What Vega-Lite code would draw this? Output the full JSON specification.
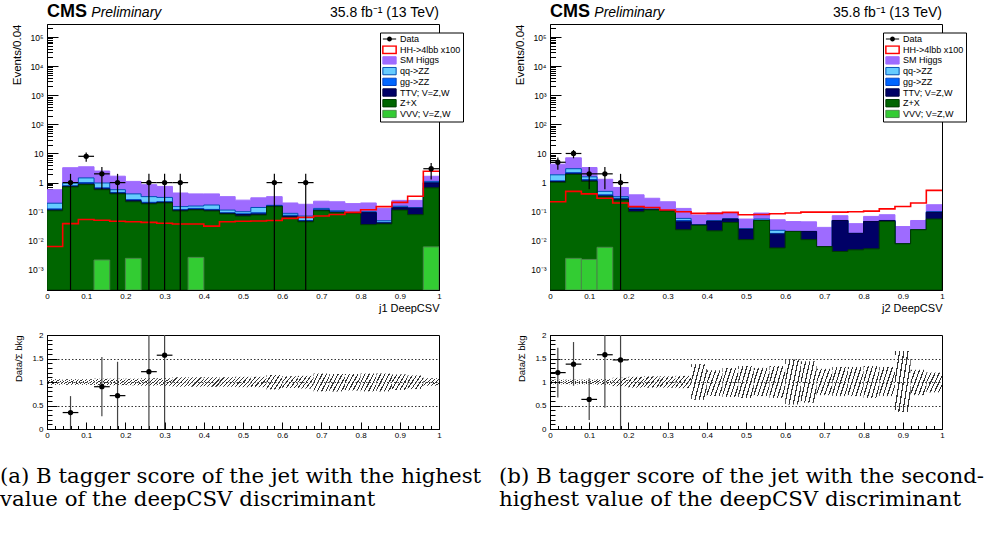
{
"$schema": "https://vega.github.io/schema/vega-lite/v6.json",
"background": "white",
"padding": {"left": 0, "top": 2, "right": 5, "bottom": 5},
"config": {
  "font": "Liberation Sans",
  "view": {"stroke": "black", "strokeWidth": 1},
  "axis": {"labelColor": "black", "titleColor": "black", "tickColor": "black", "domainColor": "black", "labelFont": "Liberation Sans", "titleFont": "Liberation Sans", "titleFontWeight": "normal", "grid": false, "zindex": 1, "labelFlush": false, "labelOverlap": false, "domain": true, "domainWidth": 1, "tickWidth": 1}
},
"datasets": {
  "stackL": [
    {"proc":"SM Higgs","x0":0,"x1":0.04,"top":0.57},{"proc":"SM Higgs","x0":0.04,"x1":0.08,"top":3.25},{"proc":"SM Higgs","x0":0.08,"x1":0.12,"top":3.5},{"proc":"SM Higgs","x0":0.12,"x1":0.16,"top":2.5},{"proc":"SM Higgs","x0":0.16,"x1":0.2,"top":1.66},{"proc":"SM Higgs","x0":0.2,"x1":0.24,"top":1.1},{"proc":"SM Higgs","x0":0.24,"x1":0.28,"top":0.85},{"proc":"SM Higgs","x0":0.28,"x1":0.32,"top":0.74},{"proc":"SM Higgs","x0":0.32,"x1":0.36,"top":0.44},{"proc":"SM Higgs","x0":0.36,"x1":0.4,"top":0.41},{"proc":"SM Higgs","x0":0.4,"x1":0.44,"top":0.41},{"proc":"SM Higgs","x0":0.44,"x1":0.48,"top":0.33},{"proc":"SM Higgs","x0":0.48,"x1":0.52,"top":0.25},{"proc":"SM Higgs","x0":0.52,"x1":0.56,"top":0.3},{"proc":"SM Higgs","x0":0.56,"x1":0.6,"top":0.33},{"proc":"SM Higgs","x0":0.6,"x1":0.64,"top":0.2},{"proc":"SM Higgs","x0":0.64,"x1":0.68,"top":0.18},{"proc":"SM Higgs","x0":0.68,"x1":0.72,"top":0.23},{"proc":"SM Higgs","x0":0.72,"x1":0.76,"top":0.22},{"proc":"SM Higgs","x0":0.76,"x1":0.8,"top":0.19},{"proc":"SM Higgs","x0":0.8,"x1":0.84,"top":0.2},{"proc":"SM Higgs","x0":0.84,"x1":0.88,"top":0.13},{"proc":"SM Higgs","x0":0.88,"x1":0.92,"top":0.245},{"proc":"SM Higgs","x0":0.92,"x1":0.96,"top":0.245},{"proc":"SM Higgs","x0":0.96,"x1":1,"top":1.65},
    {"proc":"qq->ZZ","x0":0,"x1":0.04,"top":0.196},{"proc":"qq->ZZ","x0":0.04,"x1":0.08,"top":0.97},{"proc":"qq->ZZ","x0":0.08,"x1":0.12,"top":1.45},{"proc":"qq->ZZ","x0":0.12,"x1":0.16,"top":0.97},{"proc":"qq->ZZ","x0":0.16,"x1":0.2,"top":0.57},{"proc":"qq->ZZ","x0":0.2,"x1":0.24,"top":0.41},{"proc":"qq->ZZ","x0":0.24,"x1":0.28,"top":0.33},{"proc":"qq->ZZ","x0":0.28,"x1":0.32,"top":0.31},{"proc":"qq->ZZ","x0":0.32,"x1":0.36,"top":0.15},{"proc":"qq->ZZ","x0":0.36,"x1":0.4,"top":0.157},{"proc":"qq->ZZ","x0":0.4,"x1":0.44,"top":0.17},{"proc":"qq->ZZ","x0":0.44,"x1":0.48,"top":0.114},{"proc":"qq->ZZ","x0":0.48,"x1":0.52,"top":0.1},{"proc":"qq->ZZ","x0":0.52,"x1":0.56,"top":0.14},{"proc":"qq->ZZ","x0":0.56,"x1":0.6,"top":0.166},{"proc":"qq->ZZ","x0":0.6,"x1":0.64,"top":0.088},{"proc":"qq->ZZ","x0":0.64,"x1":0.68,"top":0.071},{"proc":"qq->ZZ","x0":0.68,"x1":0.72,"top":0.13},{"proc":"qq->ZZ","x0":0.72,"x1":0.76,"top":0.108},{"proc":"qq->ZZ","x0":0.76,"x1":0.8,"top":0.095},{"proc":"qq->ZZ","x0":0.8,"x1":0.84,"top":0.1},{"proc":"qq->ZZ","x0":0.84,"x1":0.88,"top":0.049},{"proc":"qq->ZZ","x0":0.88,"x1":0.92,"top":0.155},{"proc":"qq->ZZ","x0":0.92,"x1":0.96,"top":0.137},{"proc":"qq->ZZ","x0":0.96,"x1":1,"top":1.1},
    {"proc":"gg->ZZ","x0":0,"x1":0.04,"top":0.125},{"proc":"gg->ZZ","x0":0.04,"x1":0.08,"top":0.78},{"proc":"gg->ZZ","x0":0.08,"x1":0.12,"top":1.0},{"proc":"gg->ZZ","x0":0.12,"x1":0.16,"top":0.66},{"proc":"gg->ZZ","x0":0.16,"x1":0.2,"top":0.46},{"proc":"gg->ZZ","x0":0.2,"x1":0.24,"top":0.26},{"proc":"gg->ZZ","x0":0.24,"x1":0.28,"top":0.21},{"proc":"gg->ZZ","x0":0.28,"x1":0.32,"top":0.22},{"proc":"gg->ZZ","x0":0.32,"x1":0.36,"top":0.12},{"proc":"gg->ZZ","x0":0.36,"x1":0.4,"top":0.13},{"proc":"gg->ZZ","x0":0.4,"x1":0.44,"top":0.12},{"proc":"gg->ZZ","x0":0.44,"x1":0.48,"top":0.092},{"proc":"gg->ZZ","x0":0.48,"x1":0.52,"top":0.085},{"proc":"gg->ZZ","x0":0.52,"x1":0.56,"top":0.092},{"proc":"gg->ZZ","x0":0.56,"x1":0.6,"top":0.16},{"proc":"gg->ZZ","x0":0.6,"x1":0.64,"top":0.076},{"proc":"gg->ZZ","x0":0.64,"x1":0.68,"top":0.05},{"proc":"gg->ZZ","x0":0.68,"x1":0.72,"top":0.117},{"proc":"gg->ZZ","x0":0.72,"x1":0.76,"top":0.1},{"proc":"gg->ZZ","x0":0.76,"x1":0.8,"top":0.093},{"proc":"gg->ZZ","x0":0.8,"x1":0.84,"top":0.096},{"proc":"gg->ZZ","x0":0.84,"x1":0.88,"top":0.043},{"proc":"gg->ZZ","x0":0.88,"x1":0.92,"top":0.145},{"proc":"gg->ZZ","x0":0.92,"x1":0.96,"top":0.135},{"proc":"gg->ZZ","x0":0.96,"x1":1,"top":1.0},
    {"proc":"TTV; V=Z,W","x0":0,"x1":0.04,"top":0.115},{"proc":"TTV; V=Z,W","x0":0.04,"x1":0.08,"top":0.74},{"proc":"TTV; V=Z,W","x0":0.08,"x1":0.12,"top":0.9},{"proc":"TTV; V=Z,W","x0":0.12,"x1":0.16,"top":0.61},{"proc":"TTV; V=Z,W","x0":0.16,"x1":0.2,"top":0.43},{"proc":"TTV; V=Z,W","x0":0.2,"x1":0.24,"top":0.24},{"proc":"TTV; V=Z,W","x0":0.24,"x1":0.28,"top":0.195},{"proc":"TTV; V=Z,W","x0":0.28,"x1":0.32,"top":0.21},{"proc":"TTV; V=Z,W","x0":0.32,"x1":0.36,"top":0.112},{"proc":"TTV; V=Z,W","x0":0.36,"x1":0.4,"top":0.12},{"proc":"TTV; V=Z,W","x0":0.4,"x1":0.44,"top":0.112},{"proc":"TTV; V=Z,W","x0":0.44,"x1":0.48,"top":0.088},{"proc":"TTV; V=Z,W","x0":0.48,"x1":0.52,"top":0.08},{"proc":"TTV; V=Z,W","x0":0.52,"x1":0.56,"top":0.084},{"proc":"TTV; V=Z,W","x0":0.56,"x1":0.6,"top":0.155},{"proc":"TTV; V=Z,W","x0":0.6,"x1":0.64,"top":0.07},{"proc":"TTV; V=Z,W","x0":0.64,"x1":0.68,"top":0.047},{"proc":"TTV; V=Z,W","x0":0.68,"x1":0.72,"top":0.112},{"proc":"TTV; V=Z,W","x0":0.72,"x1":0.76,"top":0.096},{"proc":"TTV; V=Z,W","x0":0.76,"x1":0.8,"top":0.091},{"proc":"TTV; V=Z,W","x0":0.8,"x1":0.84,"top":0.093},{"proc":"TTV; V=Z,W","x0":0.84,"x1":0.88,"top":0.041},{"proc":"TTV; V=Z,W","x0":0.88,"x1":0.92,"top":0.137},{"proc":"TTV; V=Z,W","x0":0.92,"x1":0.96,"top":0.132},{"proc":"TTV; V=Z,W","x0":0.96,"x1":1,"top":0.97},
    {"proc":"Z+X","x0":0,"x1":0.04,"top":0.108},{"proc":"Z+X","x0":0.04,"x1":0.08,"top":0.71},{"proc":"Z+X","x0":0.08,"x1":0.12,"top":0.85},{"proc":"Z+X","x0":0.12,"x1":0.16,"top":0.57},{"proc":"Z+X","x0":0.16,"x1":0.2,"top":0.41},{"proc":"Z+X","x0":0.2,"x1":0.24,"top":0.22},{"proc":"Z+X","x0":0.24,"x1":0.28,"top":0.186},{"proc":"Z+X","x0":0.28,"x1":0.32,"top":0.2},{"proc":"Z+X","x0":0.32,"x1":0.36,"top":0.106},{"proc":"Z+X","x0":0.36,"x1":0.4,"top":0.115},{"proc":"Z+X","x0":0.4,"x1":0.44,"top":0.106},{"proc":"Z+X","x0":0.44,"x1":0.48,"top":0.083},{"proc":"Z+X","x0":0.48,"x1":0.52,"top":0.071},{"proc":"Z+X","x0":0.52,"x1":0.56,"top":0.077},{"proc":"Z+X","x0":0.56,"x1":0.6,"top":0.15},{"proc":"Z+X","x0":0.6,"x1":0.64,"top":0.064},{"proc":"Z+X","x0":0.64,"x1":0.68,"top":0.045},{"proc":"Z+X","x0":0.68,"x1":0.72,"top":0.108},{"proc":"Z+X","x0":0.72,"x1":0.76,"top":0.093},{"proc":"Z+X","x0":0.76,"x1":0.8,"top":0.088},{"proc":"Z+X","x0":0.8,"x1":0.84,"top":0.036},{"proc":"Z+X","x0":0.84,"x1":0.88,"top":0.038},{"proc":"Z+X","x0":0.88,"x1":0.92,"top":0.114},{"proc":"Z+X","x0":0.92,"x1":0.96,"top":0.079},{"proc":"Z+X","x0":0.96,"x1":1,"top":0.66}
  ],
  "stackR": [
    {"proc":"SM Higgs","x0":0,"x1":0.04,"top":4.3},{"proc":"SM Higgs","x0":0.04,"x1":0.08,"top":7.1},{"proc":"SM Higgs","x0":0.08,"x1":0.12,"top":3.3},{"proc":"SM Higgs","x0":0.12,"x1":0.16,"top":1.3},{"proc":"SM Higgs","x0":0.16,"x1":0.2,"top":0.68},{"proc":"SM Higgs","x0":0.2,"x1":0.24,"top":0.38},{"proc":"SM Higgs","x0":0.24,"x1":0.28,"top":0.29},{"proc":"SM Higgs","x0":0.28,"x1":0.32,"top":0.22},{"proc":"SM Higgs","x0":0.32,"x1":0.36,"top":0.13},{"proc":"SM Higgs","x0":0.36,"x1":0.4,"top":0.077},{"proc":"SM Higgs","x0":0.4,"x1":0.44,"top":0.092},{"proc":"SM Higgs","x0":0.44,"x1":0.48,"top":0.09},{"proc":"SM Higgs","x0":0.48,"x1":0.52,"top":0.056},{"proc":"SM Higgs","x0":0.52,"x1":0.56,"top":0.09},{"proc":"SM Higgs","x0":0.56,"x1":0.6,"top":0.053},{"proc":"SM Higgs","x0":0.6,"x1":0.64,"top":0.046},{"proc":"SM Higgs","x0":0.64,"x1":0.68,"top":0.045},{"proc":"SM Higgs","x0":0.68,"x1":0.72,"top":0.029},{"proc":"SM Higgs","x0":0.72,"x1":0.76,"top":0.073},{"proc":"SM Higgs","x0":0.76,"x1":0.8,"top":0.039},{"proc":"SM Higgs","x0":0.8,"x1":0.84,"top":0.069},{"proc":"SM Higgs","x0":0.84,"x1":0.88,"top":0.079},{"proc":"SM Higgs","x0":0.88,"x1":0.92,"top":0.031},{"proc":"SM Higgs","x0":0.92,"x1":0.96,"top":0.05},{"proc":"SM Higgs","x0":0.96,"x1":1,"top":0.174},
    {"proc":"qq->ZZ","x0":0,"x1":0.04,"top":1.85},{"proc":"qq->ZZ","x0":0.04,"x1":0.08,"top":3.0},{"proc":"qq->ZZ","x0":0.08,"x1":0.12,"top":1.58},{"proc":"qq->ZZ","x0":0.12,"x1":0.16,"top":0.5},{"proc":"qq->ZZ","x0":0.16,"x1":0.2,"top":0.33},{"proc":"qq->ZZ","x0":0.2,"x1":0.24,"top":0.14},{"proc":"qq->ZZ","x0":0.24,"x1":0.28,"top":0.125},{"proc":"qq->ZZ","x0":0.28,"x1":0.32,"top":0.11},{"proc":"qq->ZZ","x0":0.32,"x1":0.36,"top":0.059},{"proc":"qq->ZZ","x0":0.36,"x1":0.4,"top":0.036},{"proc":"qq->ZZ","x0":0.4,"x1":0.44,"top":0.049},{"proc":"qq->ZZ","x0":0.44,"x1":0.48,"top":0.057},{"proc":"qq->ZZ","x0":0.48,"x1":0.52,"top":0.026},{"proc":"qq->ZZ","x0":0.52,"x1":0.56,"top":0.056},{"proc":"qq->ZZ","x0":0.56,"x1":0.6,"top":0.023},{"proc":"qq->ZZ","x0":0.6,"x1":0.64,"top":0.021},{"proc":"qq->ZZ","x0":0.64,"x1":0.68,"top":0.021},{"proc":"qq->ZZ","x0":0.68,"x1":0.72,"top":0.0063},{"proc":"qq->ZZ","x0":0.72,"x1":0.76,"top":0.05},{"proc":"qq->ZZ","x0":0.76,"x1":0.8,"top":0.018},{"proc":"qq->ZZ","x0":0.8,"x1":0.84,"top":0.046},{"proc":"qq->ZZ","x0":0.84,"x1":0.88,"top":0.05},{"proc":"qq->ZZ","x0":0.88,"x1":0.92,"top":0.0079},{"proc":"qq->ZZ","x0":0.92,"x1":0.96,"top":0.024},{"proc":"qq->ZZ","x0":0.96,"x1":1,"top":0.1},
    {"proc":"gg->ZZ","x0":0,"x1":0.04,"top":1.15},{"proc":"gg->ZZ","x0":0.04,"x1":0.08,"top":2.2},{"proc":"gg->ZZ","x0":0.08,"x1":0.12,"top":1.27},{"proc":"gg->ZZ","x0":0.12,"x1":0.16,"top":0.38},{"proc":"gg->ZZ","x0":0.16,"x1":0.2,"top":0.29},{"proc":"gg->ZZ","x0":0.2,"x1":0.24,"top":0.134},{"proc":"gg->ZZ","x0":0.24,"x1":0.28,"top":0.12},{"proc":"gg->ZZ","x0":0.28,"x1":0.32,"top":0.108},{"proc":"gg->ZZ","x0":0.32,"x1":0.36,"top":0.05},{"proc":"gg->ZZ","x0":0.36,"x1":0.4,"top":0.035},{"proc":"gg->ZZ","x0":0.4,"x1":0.44,"top":0.048},{"proc":"gg->ZZ","x0":0.44,"x1":0.48,"top":0.056},{"proc":"gg->ZZ","x0":0.48,"x1":0.52,"top":0.025},{"proc":"gg->ZZ","x0":0.52,"x1":0.56,"top":0.051},{"proc":"gg->ZZ","x0":0.56,"x1":0.6,"top":0.018},{"proc":"gg->ZZ","x0":0.6,"x1":0.64,"top":0.021},{"proc":"gg->ZZ","x0":0.64,"x1":0.68,"top":0.021},{"proc":"gg->ZZ","x0":0.68,"x1":0.72,"top":0.0063},{"proc":"gg->ZZ","x0":0.72,"x1":0.76,"top":0.05},{"proc":"gg->ZZ","x0":0.76,"x1":0.8,"top":0.018},{"proc":"gg->ZZ","x0":0.8,"x1":0.84,"top":0.046},{"proc":"gg->ZZ","x0":0.84,"x1":0.88,"top":0.05},{"proc":"gg->ZZ","x0":0.88,"x1":0.92,"top":0.0079},{"proc":"gg->ZZ","x0":0.92,"x1":0.96,"top":0.024},{"proc":"gg->ZZ","x0":0.96,"x1":1,"top":0.097},
    {"proc":"TTV; V=Z,W","x0":0,"x1":0.04,"top":1.08},{"proc":"TTV; V=Z,W","x0":0.04,"x1":0.08,"top":2.0},{"proc":"TTV; V=Z,W","x0":0.08,"x1":0.12,"top":1.15},{"proc":"TTV; V=Z,W","x0":0.12,"x1":0.16,"top":0.35},{"proc":"TTV; V=Z,W","x0":0.16,"x1":0.2,"top":0.27},{"proc":"TTV; V=Z,W","x0":0.2,"x1":0.24,"top":0.12},{"proc":"TTV; V=Z,W","x0":0.24,"x1":0.28,"top":0.117},{"proc":"TTV; V=Z,W","x0":0.28,"x1":0.32,"top":0.106},{"proc":"TTV; V=Z,W","x0":0.32,"x1":0.36,"top":0.045},{"proc":"TTV; V=Z,W","x0":0.36,"x1":0.4,"top":0.035},{"proc":"TTV; V=Z,W","x0":0.4,"x1":0.44,"top":0.047},{"proc":"TTV; V=Z,W","x0":0.44,"x1":0.48,"top":0.056},{"proc":"TTV; V=Z,W","x0":0.48,"x1":0.52,"top":0.025},{"proc":"TTV; V=Z,W","x0":0.52,"x1":0.56,"top":0.05},{"proc":"TTV; V=Z,W","x0":0.56,"x1":0.6,"top":0.017},{"proc":"TTV; V=Z,W","x0":0.6,"x1":0.64,"top":0.021},{"proc":"TTV; V=Z,W","x0":0.64,"x1":0.68,"top":0.021},{"proc":"TTV; V=Z,W","x0":0.68,"x1":0.72,"top":0.0063},{"proc":"TTV; V=Z,W","x0":0.72,"x1":0.76,"top":0.05},{"proc":"TTV; V=Z,W","x0":0.76,"x1":0.8,"top":0.018},{"proc":"TTV; V=Z,W","x0":0.8,"x1":0.84,"top":0.046},{"proc":"TTV; V=Z,W","x0":0.84,"x1":0.88,"top":0.05},{"proc":"TTV; V=Z,W","x0":0.88,"x1":0.92,"top":0.0079},{"proc":"TTV; V=Z,W","x0":0.92,"x1":0.96,"top":0.024},{"proc":"TTV; V=Z,W","x0":0.96,"x1":1,"top":0.095},
    {"proc":"Z+X","x0":0,"x1":0.04,"top":1.02},{"proc":"Z+X","x0":0.04,"x1":0.08,"top":1.9},{"proc":"Z+X","x0":0.08,"x1":0.12,"top":1.1},{"proc":"Z+X","x0":0.12,"x1":0.16,"top":0.33},{"proc":"Z+X","x0":0.16,"x1":0.2,"top":0.25},{"proc":"Z+X","x0":0.2,"x1":0.24,"top":0.1},{"proc":"Z+X","x0":0.24,"x1":0.28,"top":0.115},{"proc":"Z+X","x0":0.28,"x1":0.32,"top":0.105},{"proc":"Z+X","x0":0.32,"x1":0.36,"top":0.024},{"proc":"Z+X","x0":0.36,"x1":0.4,"top":0.034},{"proc":"Z+X","x0":0.4,"x1":0.44,"top":0.022},{"proc":"Z+X","x0":0.44,"x1":0.48,"top":0.043},{"proc":"Z+X","x0":0.48,"x1":0.52,"top":0.011},{"proc":"Z+X","x0":0.52,"x1":0.56,"top":0.05},{"proc":"Z+X","x0":0.56,"x1":0.6,"top":0.0057},{"proc":"Z+X","x0":0.6,"x1":0.64,"top":0.021},{"proc":"Z+X","x0":0.64,"x1":0.68,"top":0.011},{"proc":"Z+X","x0":0.68,"x1":0.72,"top":0.0063},{"proc":"Z+X","x0":0.72,"x1":0.76,"top":0.0043},{"proc":"Z+X","x0":0.76,"x1":0.8,"top":0.0049},{"proc":"Z+X","x0":0.8,"x1":0.84,"top":0.0053},{"proc":"Z+X","x0":0.84,"x1":0.88,"top":0.046},{"proc":"Z+X","x0":0.88,"x1":0.92,"top":0.0079},{"proc":"Z+X","x0":0.92,"x1":0.96,"top":0.024},{"proc":"Z+X","x0":0.96,"x1":1,"top":0.056}
  ],
  "vvvL": [{"x0":0.12,"x1":0.16,"top":0.0022},{"x0":0.2,"x1":0.24,"top":0.0025},{"x0":0.36,"x1":0.4,"top":0.0027},{"x0":0.96,"x1":1,"top":0.0062}],
  "vvvR": [{"x0":0.04,"x1":0.08,"top":0.0025},{"x0":0.08,"x1":0.12,"top":0.0023},{"x0":0.12,"x1":0.16,"top":0.006}],
  "hhL": [{"x":0,"y":0.0064},{"x":0.04,"y":0.039},{"x":0.08,"y":0.054},{"x":0.12,"y":0.051},{"x":0.16,"y":0.047},{"x":0.2,"y":0.045},{"x":0.24,"y":0.043},{"x":0.28,"y":0.04},{"x":0.32,"y":0.038},{"x":0.36,"y":0.038},{"x":0.4,"y":0.032},{"x":0.44,"y":0.045},{"x":0.48,"y":0.047},{"x":0.52,"y":0.048},{"x":0.56,"y":0.05},{"x":0.6,"y":0.059},{"x":0.64,"y":0.064},{"x":0.68,"y":0.071},{"x":0.72,"y":0.08},{"x":0.76,"y":0.095},{"x":0.8,"y":0.117},{"x":0.84,"y":0.15},{"x":0.88,"y":0.21},{"x":0.92,"y":0.34},{"x":0.96,"y":2.45},{"x":1,"y":2.45}],
  "hhR": [{"x":0,"y":0.22},{"x":0.04,"y":0.5},{"x":0.08,"y":0.41},{"x":0.12,"y":0.29},{"x":0.16,"y":0.2},{"x":0.2,"y":0.15},{"x":0.24,"y":0.14},{"x":0.28,"y":0.115},{"x":0.32,"y":0.1},{"x":0.36,"y":0.088},{"x":0.4,"y":0.088},{"x":0.44,"y":0.095},{"x":0.48,"y":0.079},{"x":0.52,"y":0.08},{"x":0.56,"y":0.085},{"x":0.6,"y":0.09},{"x":0.64,"y":0.097},{"x":0.68,"y":0.097},{"x":0.72,"y":0.097},{"x":0.76,"y":0.1},{"x":0.8,"y":0.105},{"x":0.84,"y":0.125},{"x":0.88,"y":0.152},{"x":0.92,"y":0.2},{"x":0.96,"y":0.54},{"x":1,"y":0.54}],
  "dataL": [{"x":0.06,"x0":0.04,"x1":0.08,"n":1,"lo":0.000001,"hi":2},{"x":0.1,"x0":0.08,"x1":0.12,"n":8,"lo":5.17,"hi":10.83},{"x":0.14,"x0":0.12,"x1":0.16,"n":2,"lo":0.59,"hi":3.41},{"x":0.18,"x0":0.16,"x1":0.2,"n":1,"lo":0.000001,"hi":2},{"x":0.26,"x0":0.24,"x1":0.28,"n":1,"lo":0.000001,"hi":2},{"x":0.3,"x0":0.28,"x1":0.32,"n":1,"lo":0.000001,"hi":2},{"x":0.34,"x0":0.32,"x1":0.36,"n":1,"lo":0.000001,"hi":2},{"x":0.58,"x0":0.56,"x1":0.6,"n":1,"lo":0.000001,"hi":2},{"x":0.66,"x0":0.64,"x1":0.68,"n":1,"lo":0.000001,"hi":2},{"x":0.98,"x0":0.96,"x1":1,"n":3,"lo":1.27,"hi":4.73}],
  "dataR": [{"x":0.02,"x0":0,"x1":0.04,"n":5,"lo":2.76,"hi":7.24},{"x":0.06,"x0":0.04,"x1":0.08,"n":10,"lo":6.84,"hi":13.16},{"x":0.1,"x0":0.08,"x1":0.12,"n":2,"lo":0.59,"hi":3.41},{"x":0.14,"x0":0.12,"x1":0.16,"n":2,"lo":0.59,"hi":3.41},{"x":0.18,"x0":0.16,"x1":0.2,"n":1,"lo":0.000001,"hi":2}],
  "ratioL": [{"x":0.06,"x0":0.04,"x1":0.08,"r":0.35,"lo":0,"hi":0.7},{"x":0.14,"x0":0.12,"x1":0.16,"r":0.9,"lo":0.27,"hi":1.53},{"x":0.18,"x0":0.16,"x1":0.2,"r":0.71,"lo":0,"hi":1.43},{"x":0.26,"x0":0.24,"x1":0.28,"r":1.22,"lo":0,"hi":2.45},{"x":0.3,"x0":0.28,"x1":0.32,"r":1.57,"lo":0,"hi":3.14}],
  "ratioR": [{"x":0.02,"x0":0,"x1":0.04,"r":1.2,"lo":0.67,"hi":1.73},{"x":0.06,"x0":0.04,"x1":0.08,"r":1.38,"lo":0.92,"hi":1.85},{"x":0.1,"x0":0.08,"x1":0.12,"r":0.63,"lo":0.19,"hi":1.08},{"x":0.14,"x0":0.12,"x1":0.16,"r":1.58,"lo":0.45,"hi":2.7},{"x":0.18,"x0":0.16,"x1":0.2,"r":1.47,"lo":0,"hi":2.94}],
  "bandL": [{"x0":0,"x1":0.04,"lo":0.94,"hi":1.06},{"x0":0.04,"x1":0.08,"lo":0.94,"hi":1.06},{"x0":0.08,"x1":0.12,"lo":0.94,"hi":1.06},{"x0":0.12,"x1":0.16,"lo":0.93,"hi":1.07},{"x0":0.16,"x1":0.2,"lo":0.93,"hi":1.07},{"x0":0.2,"x1":0.24,"lo":0.93,"hi":1.07},{"x0":0.24,"x1":0.28,"lo":0.92,"hi":1.08},{"x0":0.28,"x1":0.32,"lo":0.92,"hi":1.08},{"x0":0.32,"x1":0.36,"lo":0.9,"hi":1.1},{"x0":0.36,"x1":0.4,"lo":0.9,"hi":1.1},{"x0":0.4,"x1":0.44,"lo":0.9,"hi":1.1},{"x0":0.44,"x1":0.48,"lo":0.9,"hi":1.1},{"x0":0.48,"x1":0.52,"lo":0.89,"hi":1.11},{"x0":0.52,"x1":0.56,"lo":0.89,"hi":1.11},{"x0":0.56,"x1":0.6,"lo":0.84,"hi":1.15},{"x0":0.6,"x1":0.64,"lo":0.87,"hi":1.12},{"x0":0.64,"x1":0.68,"lo":0.86,"hi":1.13},{"x0":0.68,"x1":0.72,"lo":0.8,"hi":1.18},{"x0":0.72,"x1":0.76,"lo":0.8,"hi":1.17},{"x0":0.76,"x1":0.8,"lo":0.82,"hi":1.17},{"x0":0.8,"x1":0.84,"lo":0.8,"hi":1.18},{"x0":0.84,"x1":0.88,"lo":0.8,"hi":1.18},{"x0":0.88,"x1":0.92,"lo":0.83,"hi":1.16},{"x0":0.92,"x1":0.96,"lo":0.85,"hi":1.14},{"x0":0.96,"x1":1,"lo":0.92,"hi":1.08}],
  "bandR": [{"x0":0,"x1":0.04,"lo":0.95,"hi":1.05},{"x0":0.04,"x1":0.08,"lo":0.95,"hi":1.05},{"x0":0.08,"x1":0.12,"lo":0.95,"hi":1.05},{"x0":0.12,"x1":0.16,"lo":0.94,"hi":1.06},{"x0":0.16,"x1":0.2,"lo":0.91,"hi":1.09},{"x0":0.2,"x1":0.24,"lo":0.88,"hi":1.11},{"x0":0.24,"x1":0.28,"lo":0.88,"hi":1.12},{"x0":0.28,"x1":0.32,"lo":0.88,"hi":1.12},{"x0":0.32,"x1":0.36,"lo":0.87,"hi":1.13},{"x0":0.36,"x1":0.4,"lo":0.62,"hi":1.38},{"x0":0.4,"x1":0.44,"lo":0.7,"hi":1.25},{"x0":0.44,"x1":0.48,"lo":0.68,"hi":1.3},{"x0":0.48,"x1":0.52,"lo":0.66,"hi":1.34},{"x0":0.52,"x1":0.56,"lo":0.7,"hi":1.3},{"x0":0.56,"x1":0.6,"lo":0.66,"hi":1.34},{"x0":0.6,"x1":0.64,"lo":0.52,"hi":1.48},{"x0":0.64,"x1":0.68,"lo":0.56,"hi":1.44},{"x0":0.68,"x1":0.72,"lo":0.72,"hi":1.28},{"x0":0.72,"x1":0.76,"lo":0.7,"hi":1.32},{"x0":0.76,"x1":0.8,"lo":0.7,"hi":1.32},{"x0":0.8,"x1":0.84,"lo":0.66,"hi":1.34},{"x0":0.84,"x1":0.88,"lo":0.7,"hi":1.32},{"x0":0.88,"x1":0.92,"lo":0.36,"hi":1.66},{"x0":0.92,"x1":0.96,"lo":0.72,"hi":1.26},{"x0":0.96,"x1":1,"lo":0.78,"hi":1.2}]
},
"hconcat": [
  {
    "vconcat": [
      {
        "width": 392, "height": 266,
        "resolve": {"axis": {"x": "independent", "y": "independent"}},
        "layer": [
          {"data": {"name": "stackL"}, "transform": [{"fold": ["x0", "x1"], "as": ["edge", "xe"]}],
           "mark": {"type": "area", "clip": true, "strokeWidth": 1},
           "encoding": {
             "x": {"field": "xe", "type": "quantitative", "scale": {"domain": [0, 1], "nice": false, "zero": false},
               "axis": {"orient": "bottom", "values": [0,0.1,0.2,0.3,0.4,0.5,0.6,0.7,0.8,0.9,1], "format": "~g", "labelOverlap": false, "labelFlush": false,
                 "labelFontSize": 8, "tickSize": -7, "labelPadding": 9, "title": "j1 DeepCSV", "titleAnchor": "end", "titleFontSize": 11, "titlePadding": 2}},
             "y": {"field": "top", "type": "quantitative", "scale": {"type": "log", "domain": [0.000205, 280000], "nice": false},
               "axis": {"orient": "left", "values": [0.001,0.01,0.1,1,10,100,1000,10000,100000],
                 "labelExpr": "['10⁻³','10⁻²','10⁻¹','1','10','10²','10³','10⁴','10⁵'][round(log(datum.value)/LN10)+3]",
                 "labelOverlap": false, "labelFlush": false, "labelFontSize": 8.5, "tickSize": -11, "labelPadding": 15,
                 "title": "Events/0.04", "titleAnchor": "end", "titleFontSize": 11.5, "titlePadding": 5}},
             "y2": {"datum": 0.000205},
             "color": {"field": "proc", "type": "nominal",
               "scale": {"domain": ["Data", "HH->4lbb x100", "SM Higgs", "qq->ZZ", "gg->ZZ", "TTV; V=Z,W", "Z+X", "VVV; V=Z,W"], "range": ["#000000", "#ffffff", "#9e6bff", "#66ccff", "#0066ff", "#000066", "#006600", "#33cc33"]},
               "legend": {"orient": "none", "legendX": 333, "legendY": 8.5, "title": null, "padding": 2, "fillColor": "white", "strokeColor": "black", "labelFont": "Liberation Sans", "labelFontSize": 9, "labelColor": "black", "symbolSize": 49, "symbolOffset": 3, "labelOffset": 6, "rowPadding": 0.7, "clipHeight": 9, "labelLimit": 200,
                 "encode": {"symbols": {"update": {
                   "shape": {"signal": "datum.value === 'Data' ? 'M-1.9,-0.14H1.9V0.14H-1.9Z M0.7,0A0.7,0.7,0,1,1,-0.7,0A0.7,0.7,0,1,1,0.7,0Z' : 'M-1.9,-1.05H1.9V1.05H-1.9Z'"},
                   "fill": {"signal": "['#000000','#ffffff','#9e6bff','#66ccff','#0066ff','#000066','#006600','#33cc33'][indexof(['Data','HH->4lbb x100','SM Higgs','qq->ZZ','gg->ZZ','TTV; V=Z,W','Z+X','VVV; V=Z,W'], datum.value)]"},
                   "stroke": {"signal": "['#000000','#ff0000','#9e6bff','#0050b4','#0040c0','#000044','#003c00','#4a884a'][indexof(['Data','HH->4lbb x100','SM Higgs','qq->ZZ','gg->ZZ','TTV; V=Z,W','Z+X','VVV; V=Z,W'], datum.value)]"},
                   "strokeWidth": {"signal": "datum.value === 'Data' ? 0 : (datum.value === 'HH->4lbb x100' ? 1.5 : 1)"},
                   "opacity": {"value": 1}}}}}},
             "stroke": {"field": "proc", "type": "nominal", "scale": {"domain": ["SM Higgs", "qq->ZZ", "gg->ZZ", "TTV; V=Z,W", "Z+X"], "range": ["#9e6bff", "#0050b4", "#0040c0", "#000044", "#003c00"]}, "legend": null},
             "order": [{"field": "xe", "type": "quantitative"}, {"field": "edge", "type": "nominal", "sort": "descending"}]
           }},
          {"data": {"name": "vvvL"}, "mark": {"type": "bar", "fill": "#33cc33", "stroke": "#4a884a", "strokeWidth": 1, "clip": true},
           "encoding": {"x": {"field": "x0", "type": "quantitative", "scale": {"domain": [0, 1], "nice": false, "zero": false},
               "axis": {"orient": "bottom", "values": [0.02,0.04,0.06,0.08,0.12,0.14,0.16,0.18,0.22,0.24,0.26,0.28,0.32,0.34,0.36,0.38,0.42,0.44,0.46,0.48,0.52,0.54,0.56,0.58,0.62,0.64,0.66,0.68,0.72,0.74,0.76,0.78,0.82,0.84,0.86,0.88,0.92,0.94,0.96,0.98], "labels": false, "tickSize": -3.5, "domain": false, "title": null}},
             "x2": {"field": "x1"},
             "y": {"field": "top", "type": "quantitative", "scale": {"type": "log", "domain": [0.000205, 280000], "nice": false},
               "axis": {"orient": "left", "values": [0.0002,0.0003,0.0004,0.0005,0.0006,0.0007,0.0008,0.0009,0.002,0.003,0.004,0.005,0.006,0.007,0.008,0.009,0.02,0.03,0.04,0.05,0.06,0.07,0.08,0.09,0.2,0.3,0.4,0.5,0.6,0.7,0.8,0.9,2,3,4,5,6,7,8,9,20,30,40,50,60,70,80,90,200,300,400,500,600,700,800,900,2000,3000,4000,5000,6000,7000,8000,9000,20000,30000,40000,50000,60000,70000,80000,90000,200000], "labels": false, "tickSize": -5.5, "domain": false, "title": null}},
             "y2": {"datum": 0.000205}}},
          {"data": {"name": "hhL"}, "mark": {"type": "line", "interpolate": "step-after", "color": "#ff0000", "strokeWidth": 1.6, "clip": true},
           "encoding": {"x": {"field": "x", "type": "quantitative", "scale": {"domain": [0, 1], "nice": false, "zero": false}, "axis": null},
             "y": {"field": "y", "type": "quantitative", "scale": {"type": "log", "domain": [0.000205, 280000], "nice": false}, "axis": null}}},
          {"data": {"name": "dataL"}, "mark": {"type": "rule", "color": "black", "strokeWidth": 1.2, "clip": true},
           "encoding": {"x": {"field": "x", "type": "quantitative", "scale": {"domain": [0, 1], "nice": false, "zero": false}, "axis": null},
             "y": {"field": "lo", "type": "quantitative", "scale": {"type": "log", "domain": [0.000205, 280000], "nice": false}, "axis": null}, "y2": {"field": "hi"}}},
          {"data": {"name": "dataL"}, "mark": {"type": "rule", "color": "black", "strokeWidth": 1.2},
           "encoding": {"x": {"field": "x0", "type": "quantitative", "scale": {"domain": [0, 1], "nice": false, "zero": false}, "axis": null}, "x2": {"field": "x1"},
             "y": {"field": "n", "type": "quantitative", "scale": {"type": "log", "domain": [0.000205, 280000], "nice": false}, "axis": null}}},
          {"data": {"name": "dataL"}, "mark": {"type": "circle", "color": "black", "size": 28, "opacity": 1},
           "encoding": {"x": {"field": "x", "type": "quantitative", "scale": {"domain": [0, 1], "nice": false, "zero": false}, "axis": null},
             "y": {"field": "n", "type": "quantitative", "scale": {"type": "log", "domain": [0.000205, 280000], "nice": false}, "axis": null}}},
          {"data": {"values": [{}]}, "mark": {"type": "text", "text": "CMS", "font": "Liberation Sans", "fontWeight": "bold", "fontSize": 18, "align": "left", "baseline": "alphabetic", "color": "black"},
           "encoding": {"x": {"datum": 0, "axis": null}, "y": {"datum": 470000, "axis": null}}},
          {"data": {"values": [{}]}, "mark": {"type": "text", "text": "Preliminary", "font": "Liberation Sans", "fontStyle": "italic", "fontSize": 14, "align": "left", "baseline": "alphabetic", "color": "black"},
           "encoding": {"x": {"datum": 0.113, "axis": null}, "y": {"datum": 470000, "axis": null}}},
          {"data": {"values": [{}]}, "mark": {"type": "text", "text": "35.8 fb⁻¹ (13 TeV)", "font": "Liberation Sans", "fontSize": 14, "align": "right", "baseline": "alphabetic", "color": "black"},
           "encoding": {"x": {"datum": 1, "axis": null}, "y": {"datum": 470000, "axis": null}}}
        ]
      },
      {
        "width": 392, "height": 94,
        "resolve": {"axis": {"x": "independent", "y": "independent"}},
        "layer": [
          {"data": {"name": "bandL"},
           "mark": {"type": "bar", "fill": {"gradient": "linear", "x1": 0, "y1": 0, "x2": 1.176, "y2": 0.706, "stops": [
             {"offset": 0, "color": "#333333"}, {"offset": 0.048, "color": "#333333"}, {"offset": 0.048, "color": "rgba(255,255,255,0)"}, {"offset": 0.1667, "color": "rgba(255,255,255,0)"},
             {"offset": 0.1667, "color": "#333333"}, {"offset": 0.2147, "color": "#333333"}, {"offset": 0.2147, "color": "rgba(255,255,255,0)"}, {"offset": 0.3333, "color": "rgba(255,255,255,0)"},
             {"offset": 0.3333, "color": "#333333"}, {"offset": 0.3813, "color": "#333333"}, {"offset": 0.3813, "color": "rgba(255,255,255,0)"}, {"offset": 0.5, "color": "rgba(255,255,255,0)"},
             {"offset": 0.5, "color": "#333333"}, {"offset": 0.548, "color": "#333333"}, {"offset": 0.548, "color": "rgba(255,255,255,0)"}, {"offset": 0.6667, "color": "rgba(255,255,255,0)"},
             {"offset": 0.6667, "color": "#333333"}, {"offset": 0.7147, "color": "#333333"}, {"offset": 0.7147, "color": "rgba(255,255,255,0)"}, {"offset": 0.8333, "color": "rgba(255,255,255,0)"},
             {"offset": 0.8333, "color": "#333333"}, {"offset": 0.8813, "color": "#333333"}, {"offset": 0.8813, "color": "rgba(255,255,255,0)"}, {"offset": 1, "color": "rgba(255,255,255,0)"}]}},
           "encoding": {
             "x": {"field": "x0", "type": "quantitative", "scale": {"domain": [0, 1], "nice": false, "zero": false},
               "axis": {"orient": "bottom", "values": [0,0.1,0.2,0.3,0.4,0.5,0.6,0.7,0.8,0.9,1], "format": "~g", "labelOverlap": false, "labelFlush": false,
                 "labelFontSize": 8, "tickSize": -7, "labelPadding": 9, "title": null}},
             "x2": {"field": "x1"},
             "y": {"field": "lo", "type": "quantitative", "scale": {"domain": [0, 2], "nice": false, "zero": false},
               "axis": {"orient": "left", "values": [0,0.5,1,1.5,2], "format": "~g", "labelOverlap": false, "labelFlush": false,
                 "labelFontSize": 8, "tickSize": -10, "labelPadding": 14, "title": "Data/Σ bkg", "titleAnchor": "end", "titleFontSize": 9.5, "titlePadding": 8,
                 "grid": true, "gridColor": "black", "gridDash": [1.5, 2], "gridWidth": 0.8}},
             "y2": {"field": "hi"}
           }},
          {"data": {"name": "ratioL"}, "mark": {"type": "rule", "color": "#444444", "strokeWidth": 1.2, "clip": true},
           "encoding": {"x": {"field": "x", "type": "quantitative", "scale": {"domain": [0, 1], "nice": false, "zero": false},
               "axis": {"orient": "bottom", "values": [0.02,0.04,0.06,0.08,0.12,0.14,0.16,0.18,0.22,0.24,0.26,0.28,0.32,0.34,0.36,0.38,0.42,0.44,0.46,0.48,0.52,0.54,0.56,0.58,0.62,0.64,0.66,0.68,0.72,0.74,0.76,0.78,0.82,0.84,0.86,0.88,0.92,0.94,0.96,0.98], "labels": false, "tickSize": -3.5, "domain": false, "title": null}},
             "y": {"field": "lo", "type": "quantitative", "scale": {"domain": [0, 2], "nice": false, "zero": false},
               "axis": {"orient": "left", "values": [0.1,0.2,0.3,0.4,0.6,0.7,0.8,0.9,1.1,1.2,1.3,1.4,1.6,1.7,1.8,1.9], "labels": false, "tickSize": -5, "domain": false, "title": null}},
             "y2": {"field": "hi"}}},
          {"data": {"name": "ratioL"}, "mark": {"type": "rule", "color": "black", "strokeWidth": 1.2, "clip": true},
           "encoding": {"x": {"field": "x0", "type": "quantitative", "scale": {"domain": [0, 1], "nice": false, "zero": false}, "axis": null}, "x2": {"field": "x1"},
             "y": {"field": "r", "type": "quantitative", "scale": {"domain": [0, 2], "nice": false, "zero": false}, "axis": null}}},
          {"data": {"name": "ratioL"}, "mark": {"type": "circle", "color": "black", "size": 28, "opacity": 1, "clip": true},
           "encoding": {"x": {"field": "x", "type": "quantitative", "scale": {"domain": [0, 1], "nice": false, "zero": false}, "axis": null},
             "y": {"field": "r", "type": "quantitative", "scale": {"domain": [0, 2], "nice": false, "zero": false}, "axis": null}}}
        ]
      }
    ],
    "spacing": 45,
    "bounds": "flush",
    "resolve": {"scale": {"color": "independent", "stroke": "independent"}, "legend": {"color": "independent"}},
    "title": {"text": ["(a) B tagger score of the jet with the highest", "value of the deepCSV discriminant"], "orient": "bottom", "anchor": "start", "frame": "group", "font": "DejaVu Serif", "fontSize": 21.3, "fontWeight": "normal", "lineHeight": 23, "offset": 26, "dx": -47, "color": "black"}
  },
  {
    "vconcat": [
      {
        "width": 392, "height": 266,
        "resolve": {"axis": {"x": "independent", "y": "independent"}},
        "layer": [
          {"data": {"name": "stackR"}, "transform": [{"fold": ["x0", "x1"], "as": ["edge", "xe"]}],
           "mark": {"type": "area", "clip": true, "strokeWidth": 1},
           "encoding": {
             "x": {"field": "xe", "type": "quantitative", "scale": {"domain": [0, 1], "nice": false, "zero": false},
               "axis": {"orient": "bottom", "values": [0,0.1,0.2,0.3,0.4,0.5,0.6,0.7,0.8,0.9,1], "format": "~g", "labelOverlap": false, "labelFlush": false,
                 "labelFontSize": 8, "tickSize": -7, "labelPadding": 9, "title": "j2 DeepCSV", "titleAnchor": "end", "titleFontSize": 11, "titlePadding": 2}},
             "y": {"field": "top", "type": "quantitative", "scale": {"type": "log", "domain": [0.000205, 280000], "nice": false},
               "axis": {"orient": "left", "values": [0.001,0.01,0.1,1,10,100,1000,10000,100000],
                 "labelExpr": "['10⁻³','10⁻²','10⁻¹','1','10','10²','10³','10⁴','10⁵'][round(log(datum.value)/LN10)+3]",
                 "labelOverlap": false, "labelFlush": false, "labelFontSize": 8.5, "tickSize": -11, "labelPadding": 15,
                 "title": "Events/0.04", "titleAnchor": "end", "titleFontSize": 11.5, "titlePadding": 5}},
             "y2": {"datum": 0.000205},
             "color": {"field": "proc", "type": "nominal",
               "scale": {"domain": ["Data", "HH->4lbb x100", "SM Higgs", "qq->ZZ", "gg->ZZ", "TTV; V=Z,W", "Z+X", "VVV; V=Z,W"], "range": ["#000000", "#ffffff", "#9e6bff", "#66ccff", "#0066ff", "#000066", "#006600", "#33cc33"]},
               "legend": {"orient": "none", "legendX": 333, "legendY": 8.5, "title": null, "padding": 2, "fillColor": "white", "strokeColor": "black", "labelFont": "Liberation Sans", "labelFontSize": 9, "labelColor": "black", "symbolSize": 49, "symbolOffset": 3, "labelOffset": 6, "rowPadding": 0.7, "clipHeight": 9, "labelLimit": 200,
                 "encode": {"symbols": {"update": {
                   "shape": {"signal": "datum.value === 'Data' ? 'M-1.9,-0.14H1.9V0.14H-1.9Z M0.7,0A0.7,0.7,0,1,1,-0.7,0A0.7,0.7,0,1,1,0.7,0Z' : 'M-1.9,-1.05H1.9V1.05H-1.9Z'"},
                   "fill": {"signal": "['#000000','#ffffff','#9e6bff','#66ccff','#0066ff','#000066','#006600','#33cc33'][indexof(['Data','HH->4lbb x100','SM Higgs','qq->ZZ','gg->ZZ','TTV; V=Z,W','Z+X','VVV; V=Z,W'], datum.value)]"},
                   "stroke": {"signal": "['#000000','#ff0000','#9e6bff','#0050b4','#0040c0','#000044','#003c00','#4a884a'][indexof(['Data','HH->4lbb x100','SM Higgs','qq->ZZ','gg->ZZ','TTV; V=Z,W','Z+X','VVV; V=Z,W'], datum.value)]"},
                   "strokeWidth": {"signal": "datum.value === 'Data' ? 0 : (datum.value === 'HH->4lbb x100' ? 1.5 : 1)"},
                   "opacity": {"value": 1}}}}}},
             "stroke": {"field": "proc", "type": "nominal", "scale": {"domain": ["SM Higgs", "qq->ZZ", "gg->ZZ", "TTV; V=Z,W", "Z+X"], "range": ["#9e6bff", "#0050b4", "#0040c0", "#000044", "#003c00"]}, "legend": null},
             "order": [{"field": "xe", "type": "quantitative"}, {"field": "edge", "type": "nominal", "sort": "descending"}]
           }},
          {"data": {"name": "vvvR"}, "mark": {"type": "bar", "fill": "#33cc33", "stroke": "#4a884a", "strokeWidth": 1, "clip": true},
           "encoding": {"x": {"field": "x0", "type": "quantitative", "scale": {"domain": [0, 1], "nice": false, "zero": false},
               "axis": {"orient": "bottom", "values": [0.02,0.04,0.06,0.08,0.12,0.14,0.16,0.18,0.22,0.24,0.26,0.28,0.32,0.34,0.36,0.38,0.42,0.44,0.46,0.48,0.52,0.54,0.56,0.58,0.62,0.64,0.66,0.68,0.72,0.74,0.76,0.78,0.82,0.84,0.86,0.88,0.92,0.94,0.96,0.98], "labels": false, "tickSize": -3.5, "domain": false, "title": null}},
             "x2": {"field": "x1"},
             "y": {"field": "top", "type": "quantitative", "scale": {"type": "log", "domain": [0.000205, 280000], "nice": false},
               "axis": {"orient": "left", "values": [0.0002,0.0003,0.0004,0.0005,0.0006,0.0007,0.0008,0.0009,0.002,0.003,0.004,0.005,0.006,0.007,0.008,0.009,0.02,0.03,0.04,0.05,0.06,0.07,0.08,0.09,0.2,0.3,0.4,0.5,0.6,0.7,0.8,0.9,2,3,4,5,6,7,8,9,20,30,40,50,60,70,80,90,200,300,400,500,600,700,800,900,2000,3000,4000,5000,6000,7000,8000,9000,20000,30000,40000,50000,60000,70000,80000,90000,200000], "labels": false, "tickSize": -5.5, "domain": false, "title": null}},
             "y2": {"datum": 0.000205}}},
          {"data": {"name": "hhR"}, "mark": {"type": "line", "interpolate": "step-after", "color": "#ff0000", "strokeWidth": 1.6, "clip": true},
           "encoding": {"x": {"field": "x", "type": "quantitative", "scale": {"domain": [0, 1], "nice": false, "zero": false}, "axis": null},
             "y": {"field": "y", "type": "quantitative", "scale": {"type": "log", "domain": [0.000205, 280000], "nice": false}, "axis": null}}},
          {"data": {"name": "dataR"}, "mark": {"type": "rule", "color": "black", "strokeWidth": 1.2, "clip": true},
           "encoding": {"x": {"field": "x", "type": "quantitative", "scale": {"domain": [0, 1], "nice": false, "zero": false}, "axis": null},
             "y": {"field": "lo", "type": "quantitative", "scale": {"type": "log", "domain": [0.000205, 280000], "nice": false}, "axis": null}, "y2": {"field": "hi"}}},
          {"data": {"name": "dataR"}, "mark": {"type": "rule", "color": "black", "strokeWidth": 1.2, "clip": true},
           "encoding": {"x": {"field": "x0", "type": "quantitative", "scale": {"domain": [0, 1], "nice": false, "zero": false}, "axis": null}, "x2": {"field": "x1"},
             "y": {"field": "n", "type": "quantitative", "scale": {"type": "log", "domain": [0.000205, 280000], "nice": false}, "axis": null}}},
          {"data": {"name": "dataR"}, "mark": {"type": "circle", "color": "black", "size": 28, "opacity": 1},
           "encoding": {"x": {"field": "x", "type": "quantitative", "scale": {"domain": [0, 1], "nice": false, "zero": false}, "axis": null},
             "y": {"field": "n", "type": "quantitative", "scale": {"type": "log", "domain": [0.000205, 280000], "nice": false}, "axis": null}}},
          {"data": {"values": [{}]}, "mark": {"type": "text", "text": "CMS", "font": "Liberation Sans", "fontWeight": "bold", "fontSize": 18, "align": "left", "baseline": "alphabetic", "color": "black"},
           "encoding": {"x": {"datum": 0, "axis": null}, "y": {"datum": 470000, "axis": null}}},
          {"data": {"values": [{}]}, "mark": {"type": "text", "text": "Preliminary", "font": "Liberation Sans", "fontStyle": "italic", "fontSize": 14, "align": "left", "baseline": "alphabetic", "color": "black"},
           "encoding": {"x": {"datum": 0.113, "axis": null}, "y": {"datum": 470000, "axis": null}}},
          {"data": {"values": [{}]}, "mark": {"type": "text", "text": "35.8 fb⁻¹ (13 TeV)", "font": "Liberation Sans", "fontSize": 14, "align": "right", "baseline": "alphabetic", "color": "black"},
           "encoding": {"x": {"datum": 1, "axis": null}, "y": {"datum": 470000, "axis": null}}}
        ]
      },
      {
        "width": 392, "height": 94,
        "resolve": {"axis": {"x": "independent", "y": "independent"}},
        "layer": [
          {"data": {"name": "bandR"},
           "mark": {"type": "bar", "fill": {"gradient": "linear", "x1": 0, "y1": 0, "x2": 1.176, "y2": 0.706, "stops": [
             {"offset": 0, "color": "#333333"}, {"offset": 0.048, "color": "#333333"}, {"offset": 0.048, "color": "rgba(255,255,255,0)"}, {"offset": 0.1667, "color": "rgba(255,255,255,0)"},
             {"offset": 0.1667, "color": "#333333"}, {"offset": 0.2147, "color": "#333333"}, {"offset": 0.2147, "color": "rgba(255,255,255,0)"}, {"offset": 0.3333, "color": "rgba(255,255,255,0)"},
             {"offset": 0.3333, "color": "#333333"}, {"offset": 0.3813, "color": "#333333"}, {"offset": 0.3813, "color": "rgba(255,255,255,0)"}, {"offset": 0.5, "color": "rgba(255,255,255,0)"},
             {"offset": 0.5, "color": "#333333"}, {"offset": 0.548, "color": "#333333"}, {"offset": 0.548, "color": "rgba(255,255,255,0)"}, {"offset": 0.6667, "color": "rgba(255,255,255,0)"},
             {"offset": 0.6667, "color": "#333333"}, {"offset": 0.7147, "color": "#333333"}, {"offset": 0.7147, "color": "rgba(255,255,255,0)"}, {"offset": 0.8333, "color": "rgba(255,255,255,0)"},
             {"offset": 0.8333, "color": "#333333"}, {"offset": 0.8813, "color": "#333333"}, {"offset": 0.8813, "color": "rgba(255,255,255,0)"}, {"offset": 1, "color": "rgba(255,255,255,0)"}]}},
           "encoding": {
             "x": {"field": "x0", "type": "quantitative", "scale": {"domain": [0, 1], "nice": false, "zero": false},
               "axis": {"orient": "bottom", "values": [0,0.1,0.2,0.3,0.4,0.5,0.6,0.7,0.8,0.9,1], "format": "~g", "labelOverlap": false, "labelFlush": false,
                 "labelFontSize": 8, "tickSize": -7, "labelPadding": 9, "title": null}},
             "x2": {"field": "x1"},
             "y": {"field": "lo", "type": "quantitative", "scale": {"domain": [0, 2], "nice": false, "zero": false},
               "axis": {"orient": "left", "values": [0,0.5,1,1.5,2], "format": "~g", "labelOverlap": false, "labelFlush": false,
                 "labelFontSize": 8, "tickSize": -10, "labelPadding": 14, "title": "Data/Σ bkg", "titleAnchor": "end", "titleFontSize": 9.5, "titlePadding": 8,
                 "grid": true, "gridColor": "black", "gridDash": [1.5, 2], "gridWidth": 0.8}},
             "y2": {"field": "hi"}
           }},
          {"data": {"name": "ratioR"}, "mark": {"type": "rule", "color": "#444444", "strokeWidth": 1.2, "clip": true},
           "encoding": {"x": {"field": "x", "type": "quantitative", "scale": {"domain": [0, 1], "nice": false, "zero": false},
               "axis": {"orient": "bottom", "values": [0.02,0.04,0.06,0.08,0.12,0.14,0.16,0.18,0.22,0.24,0.26,0.28,0.32,0.34,0.36,0.38,0.42,0.44,0.46,0.48,0.52,0.54,0.56,0.58,0.62,0.64,0.66,0.68,0.72,0.74,0.76,0.78,0.82,0.84,0.86,0.88,0.92,0.94,0.96,0.98], "labels": false, "tickSize": -3.5, "domain": false, "title": null}},
             "y": {"field": "lo", "type": "quantitative", "scale": {"domain": [0, 2], "nice": false, "zero": false},
               "axis": {"orient": "left", "values": [0.1,0.2,0.3,0.4,0.6,0.7,0.8,0.9,1.1,1.2,1.3,1.4,1.6,1.7,1.8,1.9], "labels": false, "tickSize": -5, "domain": false, "title": null}},
             "y2": {"field": "hi"}}},
          {"data": {"name": "ratioR"}, "mark": {"type": "rule", "color": "black", "strokeWidth": 1.2, "clip": true},
           "encoding": {"x": {"field": "x0", "type": "quantitative", "scale": {"domain": [0, 1], "nice": false, "zero": false}, "axis": null}, "x2": {"field": "x1"},
             "y": {"field": "r", "type": "quantitative", "scale": {"domain": [0, 2], "nice": false, "zero": false}, "axis": null}}},
          {"data": {"name": "ratioR"}, "mark": {"type": "circle", "color": "black", "size": 28, "opacity": 1, "clip": true},
           "encoding": {"x": {"field": "x", "type": "quantitative", "scale": {"domain": [0, 1], "nice": false, "zero": false}, "axis": null},
             "y": {"field": "r", "type": "quantitative", "scale": {"domain": [0, 2], "nice": false, "zero": false}, "axis": null}}}
        ]
      }
    ],
    "spacing": 45,
    "bounds": "flush",
    "resolve": {"scale": {"color": "independent", "stroke": "independent"}, "legend": {"color": "independent"}},
    "title": {"text": ["(b) B tagger score of the jet with the second-", "highest value of the deepCSV discriminant"], "orient": "bottom", "anchor": "start", "frame": "group", "font": "DejaVu Serif", "fontSize": 21.3, "fontWeight": "normal", "lineHeight": 23, "offset": 26, "dx": -51, "color": "black"}
  }
],
"spacing": 503,
"bounds": "flush",
"resolve": {"scale": {"color": "independent", "stroke": "independent"}, "legend": {"color": "independent"}}
}
